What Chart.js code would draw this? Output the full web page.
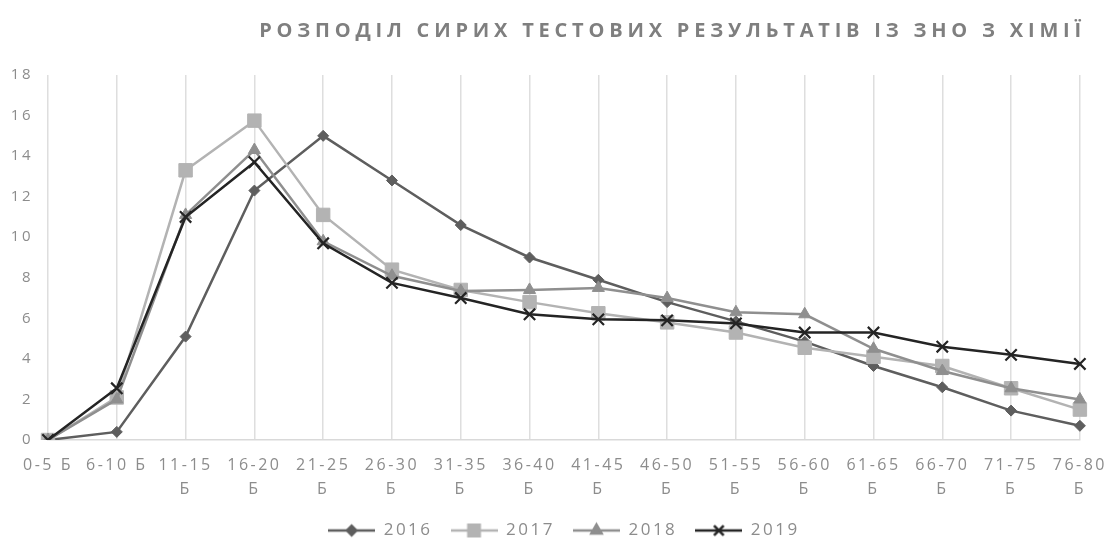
<!DOCTYPE html>
<html>
<head>
<meta charset="utf-8">
<script src="https://cdn.jsdelivr.net/npm/chart.js@4/dist/chart.umd.min.js"></script>
<style>
  html, body { margin: 0; padding: 0; background: #fff; }
  #wrap { width: 1120px; height: 540px; }
</style>
</head>
<body>
<div id="wrap"><canvas id="chart"></canvas></div>
<script>
const titleText = 'РОЗПОДІЛ СИРИХ ТЕСТОВИХ РЕЗУЛЬТАТІВ ІЗ ЗНО З ХІМІЇ';

const categories = ['0-5 Б', '6-10 Б', '11-15 Б', '16-20 Б', '21-25 Б', '26-30 Б', '31-35 Б', '36-40 Б',
  '41-45 Б', '46-50 Б', '51-55 Б', '56-60 Б', '61-65 Б', '66-70 Б', '71-75 Б', '76-80 Б'];

const years = ['2016', '2017', '2018', '2019'];

const values2016 = [0, 0.4, 5.1, 12.3, 15.0, 12.8, 10.6, 9.0, 7.9, 6.8, 5.85, 4.85, 3.65, 2.6, 1.45, 0.7];
const values2017 = [0, 2.1, 13.3, 15.75, 11.1, 8.4, 7.4, 6.8, 6.25, 5.8, 5.3, 4.55, 4.1, 3.65, 2.55, 1.5];
const values2018 = [0, 2.0, 11.1, 14.3, 9.8, 8.1, 7.35, 7.4, 7.5, 7.0, 6.3, 6.2, 4.5, 3.4, 2.55, 2.0];
const values2019 = [0, 2.55, 11.0, 13.7, 9.7, 7.75, 7.0, 6.2, 5.95, 5.9, 5.75, 5.3, 5.3, 4.6, 4.2, 3.75];

const yTicks = [0, 2, 4, 6, 8, 10, 12, 14, 16, 18];

const styles = [
  { color: '#5e5e5e', pointStyle: 'rectRot', radius: 5.5 },
  { color: '#b3b3b3', pointStyle: 'rect', radius: 9.5 },
  { color: '#8f8f8f', pointStyle: 'triangle', radius: 7 },
  { color: '#242424', pointStyle: 'crossRot', radius: 8 }
];

const series = [values2016, values2017, values2018, values2019];

const datasets = series.map((vals, i) => ({
  label: years[i],
  data: vals,
  borderColor: styles[i].color,
  backgroundColor: styles[i].color,
  pointBackgroundColor: styles[i].color,
  pointBorderColor: styles[i].color,
  pointStyle: styles[i].pointStyle,
  pointRadius: styles[i].radius,
  pointBorderWidth: i === 3 ? 2.2 : 1,
  borderWidth: 2.5,
  tension: 0,
  order: series.length - 1 - i // 2019 on top
}));

// little "line + marker" picture for the legend, excel style
function legendIcon(st) {
  const c = document.createElement('canvas');
  c.width = 47;
  c.height = 20;
  const ctx = c.getContext('2d');
  ctx.strokeStyle = st.color;
  ctx.lineWidth = 2.5;
  ctx.beginPath();
  ctx.moveTo(0, 10);
  ctx.lineTo(47, 10);
  ctx.stroke();
  ctx.fillStyle = st.color;
  Chart.helpers.drawPoint(ctx, {
    pointStyle: st.pointStyle,
    radius: st.radius * 0.85,
    rotation: 0,
    borderWidth: st.pointStyle === 'crossRot' ? 2.2 : 1
  }, 23.5, 10);
  return c;
}

const spacedText = {
  id: 'spacedText',
  beforeLayout(chart) { chart.ctx.letterSpacing = '2.5px'; },
  beforeDraw(chart) { chart.ctx.letterSpacing = '2.5px'; },
  afterDraw(chart) {
    const ctx = chart.ctx;
    ctx.save();
    ctx.letterSpacing = '4.8px';
    ctx.font = 'bold 20px "Open Sans"';
    ctx.fillStyle = '#7f7f7f';
    ctx.textAlign = 'right';
    ctx.textBaseline = 'middle';
    ctx.fillText(titleText, chart.chartArea.right + 6, 31);
    ctx.restore();
  }
};

new Chart(document.getElementById('chart'), {
  type: 'line',
  data: { labels: categories, datasets: datasets },
  plugins: [spacedText],
  options: {
    responsive: true,
    maintainAspectRatio: false,
    animation: false,
    layout: { padding: { left: 12, right: 34, top: 75, bottom: -9 } },
    scales: {
      x: {
        offset: false,
        grid: { display: true, color: '#dedede', lineWidth: 1.5, drawTicks: false },
        border: { display: true, color: '#d9d9d9', width: 1.5 },
        ticks: {
          color: '#8c8c8c',
          font: { family: 'Open Sans', size: 16, lineHeight: 1.5 },
          padding: 13,
          maxRotation: 0,
          autoSkip: false,
          callback: function (value, index) {
            const parts = categories[index].split(' ');
            return parts[0].length > 4 ? parts : categories[index];
          }
        },
        afterFit(axis) { axis.height = 64; }
      },
      y: {
        min: 0,
        max: 18,
        grid: { display: false, drawTicks: false },
        border: { display: false },
        afterBuildTicks(axis) { axis.ticks = yTicks.map(v => ({ value: v })); },
        ticks: {
          color: '#8c8c8c',
          font: { family: 'Open Sans', size: 15 },
          padding: 15
        },
        afterFit(axis) { axis.width = 36; }
      }
    },
    plugins: {
      title: { display: false },
      tooltip: { enabled: false },
      legend: {
        position: 'bottom',
        fullSize: false,
        labels: {
          usePointStyle: true,
          pointStyleWidth: 47,
          color: '#8c8c8c',
          font: { family: 'Open Sans', size: 17 },
          padding: 18,
          generateLabels(chart) {
            return chart.data.datasets.map((ds, i) => ({
              text: ds.label,
              pointStyle: legendIcon(styles[i]),
              fillStyle: styles[i].color,
              strokeStyle: styles[i].color,
              fontColor: '#8c8c8c',
              lineWidth: 0,
              hidden: false,
              datasetIndex: i
            }));
          }
        }
      }
    }
  }
});
</script>
</body>
</html>
